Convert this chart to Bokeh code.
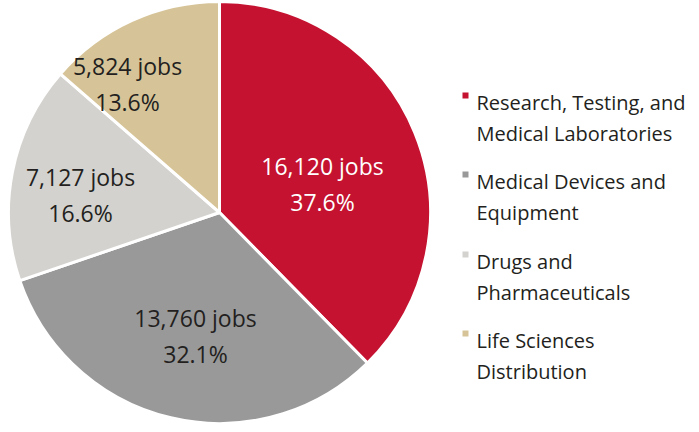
import math
from bokeh.plotting import figure
from bokeh.models import Range1d, ColumnDataSource
from bokeh.core.properties import value
from bokeh.embed import file_html
from bokeh.resources import INLINE

categories = ["Research, Testing, and\nMedical Laboratories",
              "Medical Devices and\nEquipment",
              "Drugs and\nPharmaceuticals",
              "Life Sciences\nDistribution"]
jobs = [16120, 13760, 7127, 5824]
percents = [37.6, 32.1, 16.6, 13.6]
colors = ["#C41230", "#999999", "#D3D2CE", "#D6C498"]
label_colors = ["white", "#231F20", "#231F20", "#231F20"]

# layout (pixel-like data units, y measured upward)
W, H = 691, 424
cx, cy, R = 219, 212, 211
# label anchor points (relative to pie centre)
label_dx = [103, -24, -139, -92]
label_dy = [29, -123, 18, 129]

total = sum(jobs)
starts, ends = [], []
acc = 0
for v in jobs:
    starts.append(math.pi / 2 - 2 * math.pi * acc / total)
    acc += v
    ends.append(math.pi / 2 - 2 * math.pi * acc / total)

p = figure(width=W, height=H, output_backend="svg", toolbar_location=None,
           x_range=Range1d(0, W), y_range=Range1d(0, H), min_border=0)
p.axis.visible = False
p.grid.visible = False
p.outline_line_color = None
p.background_fill_color = "white"

src = ColumnDataSource(dict(start=starts, end=ends, color=colors))
p.wedge(x=cx, y=cy, radius=R, start_angle="start", end_angle="end",
        direction="clock", fill_color="color", line_color="white",
        line_width=3, source=src)

FONT = value("Open Sans")
for i in range(len(jobs)):
    x = cx + label_dx[i]
    y = cy + label_dy[i]
    p.text(x=[x], y=[y + 18], text=[f"{jobs[i]:,} jobs"], text_align="center",
           text_baseline="middle", text_font=FONT, text_font_size="23px",
           text_color=label_colors[i])
    p.text(x=[x], y=[y - 18], text=[f"{percents[i]}%"], text_align="center",
           text_baseline="middle", text_font=FONT, text_font_size="23px",
           text_color=label_colors[i])

# legend (first-line centres at image rows 102, 181, 261, 340)
lx = 476
first_rows = [102, 181, 261, 340]
line_h = 31
for i, cat in enumerate(categories):
    y = H - first_rows[i]
    p.rect(x=[lx - 11], y=[y + 7], width=6, height=6, fill_color=colors[i],
           line_color=None)
    for j, t in enumerate(cat.split("\n")):
        p.text(x=[lx], y=[y - j * line_h], text=[t], text_align="left",
               text_baseline="middle", text_font=FONT, text_font_size="20px",
               text_color="#231F20")

open("out.html", "w").write(file_html(p, INLINE))
